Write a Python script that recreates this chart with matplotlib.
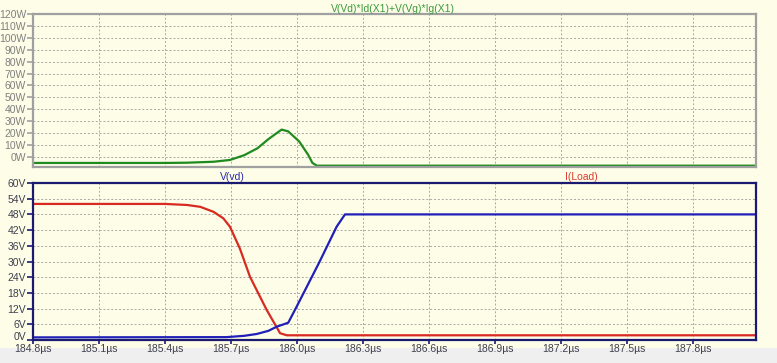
import matplotlib
matplotlib.use("Agg")
import matplotlib.pyplot as plt
from matplotlib.patches import Rectangle
from matplotlib.transforms import ScaledTranslation
import numpy as np

# time axis (µs)
t_min, t_max = 184.8, 188.086
x_ticks = [184.8, 185.1, 185.4, 185.7, 186.0, 186.3, 186.6, 186.9, 187.2, 187.5, 187.8]

# power V(Vd)*Id(X1)+V(Vg)*Ig(X1), W
t_pow = [184.8, 185.4, 185.5, 185.62, 185.695, 185.76, 185.82, 185.87, 185.93,
         185.96, 186.01, 186.05, 186.07, 186.09, 188.086]
p_pow = [-5.0, -5.0, -4.8, -4.0, -2.5, 1.5, 7.3, 15.0, 23.0,
         21.5, 13.0, 2.0, -5.0, -7.3, -7.3]

# V(vd), V
t_vd = [184.8, 185.68, 185.76, 185.817, 185.87, 185.908, 185.96, 185.998,
        186.1, 186.18, 186.218, 188.086]
v_vd = [1.0, 1.1, 1.6, 2.3, 3.5, 5.1, 6.6, 12.7, 29.5, 43.3, 48.0, 48.0]

# I(Load)
t_load = [184.8, 185.4, 185.5, 185.56, 185.62, 185.665, 185.695, 185.74,
          185.786, 185.862, 185.923, 185.953, 188.086]
i_load = [52.0, 52.0, 51.6, 50.9, 49.0, 46.5, 43.3, 35.0,
          24.2, 11.5, 2.6, 1.8, 1.8]

bg = "#fdfde8"
plt.rcParams["font.family"] = ["Liberation Sans", "DejaVu Sans"]

fig = plt.figure(figsize=(7.77, 3.63), dpi=100, facecolor=bg)
fig.patches.append(Rectangle((0, 0), 1, 15 / 363, transform=fig.transFigure,
                             facecolor="#efefef", edgecolor="none", zorder=-5))

ax1 = fig.add_axes([33 / 777, 1 - 167 / 363, 723 / 777, 153 / 363])
ax2 = fig.add_axes([33 / 777, 1 - 340 / 363, 723 / 777, 157 / 363])

for ax, frame, lab in [(ax1, "#a0a0a0", "#808080"), (ax2, "#1a1a70", "#404050")]:
    ax.set_facecolor(bg)
    ax.set_xlim(t_min, t_max)
    ax.set_xticks(x_ticks)
    for s in ax.spines.values():
        s.set_color(frame)
        s.set_linewidth(1.6)
    ax.grid(True, color="#a8a8a8", linestyle=(0, (2, 2)), linewidth=0.7)
    ax.tick_params(axis="both", direction="out", length=4, width=1.2,
                   color=frame, labelcolor=lab, labelsize=7.5, pad=1)

# top panel
ax1.plot(t_pow, p_pow, color="#1f8a1f", linewidth=1.6)
ax1.set_ylim(-8.4, 120)
ax1.set_yticks(np.arange(0, 121, 10))
ax1.set_yticklabels([f"{v}W" for v in range(0, 121, 10)])
ax1.tick_params(axis="x", length=0, labelbottom=False)
fig.text(393 / 777, 1 - 9 / 363, "V(Vd)*Id(X1)+V(Vg)*Ig(X1)", color="#3c9a3c",
         fontsize=7.5, ha="center", va="center")

# bottom panel
ax2.plot(t_load, i_load, color="#d82a20", linewidth=1.6)
ax2.plot(t_vd, v_vd, color="#2020b8", linewidth=1.6)
ax2.set_ylim(0, 60)
ax2.set_yticks(np.arange(0, 61, 6))
ax2.set_yticklabels([f"{v}V" for v in range(0, 61, 6)])
ax2.set_xticklabels([f"{v:.1f}µs" for v in x_ticks])
ax2.tick_params(axis="x", length=3, pad=0)
fig.text(232 / 777, 1 - 177 / 363, "V(vd)", color="#2a2ab0",
         fontsize=7.5, ha="center", va="center")
fig.text(581 / 777, 1 - 177 / 363, "I(Load)", color="#d83a30",
         fontsize=7.5, ha="center", va="center")

# lift "0V" a little so it clears the first time label
zero_lbl = ax2.yaxis.get_major_ticks()[0].label1
zero_lbl.set_transform(zero_lbl.get_transform() +
                       ScaledTranslation(0, 3 / 72, fig.dpi_scale_trans))

fig.savefig("out.png", dpi=100, facecolor=bg)
